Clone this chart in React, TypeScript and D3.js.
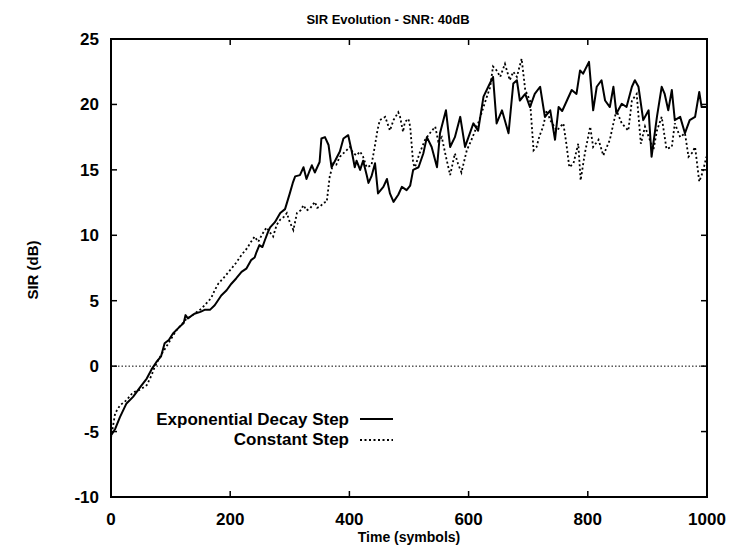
import * as d3 from "d3";

// SIR (dB) over time (symbols)
const decayPoints: [number, number][] = [
  [0, -5.3], [7, -4.8], [15, -3.9], [26, -2.85], [37, -2.35], [49, -1.6], [60, -0.95],
  [68, -0.25], [76, 0.3], [84, 0.75], [90, 1.75], [97, 2.0], [104, 2.5], [115, 3.0],
  [122, 3.3], [125, 3.9], [129, 3.65], [140, 4.0], [150, 4.15], [157, 4.3], [166, 4.3],
  [174, 4.65], [185, 5.4], [194, 5.8], [202, 6.3], [210, 6.7], [219, 7.2], [227, 7.45],
  [235, 8.1], [241, 8.3], [244, 8.7], [249, 9.25], [254, 9.1], [258, 9.6], [263, 10.2],
  [267, 10.6], [275, 11.0], [284, 11.7], [292, 12.0], [300, 13.2], [305, 14.0], [309, 14.5],
  [317, 14.6], [323, 15.2], [328, 14.3], [333, 14.9], [337, 15.35], [342, 14.8], [350, 15.6],
  [353, 17.4], [359, 17.5], [365, 16.9], [370, 15.2], [376, 15.7], [384, 16.4], [390, 17.4],
  [398, 17.65], [404, 16.4], [409, 15.2], [412, 15.7], [418, 15.0], [423, 15.7], [429, 14.6],
  [432, 14.0], [437, 14.5], [443, 15.5], [448, 13.2], [457, 13.7], [463, 14.3], [468, 13.2],
  [474, 12.55], [482, 13.1], [488, 13.7], [496, 13.45], [502, 13.8], [507, 15.0], [516, 15.2],
  [524, 16.25], [530, 17.5], [538, 16.75], [547, 15.2], [552, 17.8], [562, 19.55], [569, 16.75],
  [577, 17.5], [586, 19.05], [594, 16.75], [608, 18.55], [616, 18.0], [625, 20.6], [633, 21.35],
  [641, 22.1], [647, 18.55], [656, 19.55], [667, 17.8], [675, 21.6], [681, 21.85], [686, 20.3],
  [695, 20.8], [703, 19.8], [711, 20.8], [720, 21.35], [728, 19.05], [737, 19.55], [745, 17.3],
  [751, 19.8], [757, 19.5], [765, 20.3], [773, 21.1], [781, 20.8], [787, 22.6], [792, 22.35],
  [802, 23.25], [809, 19.55], [815, 21.35], [823, 21.85], [829, 20.3], [837, 19.8], [843, 21.35],
  [848, 19.3], [857, 20.05], [865, 19.8], [874, 21.35], [879, 21.85], [885, 21.35], [893, 18.8],
  [902, 19.55], [907, 16.0], [916, 19.05], [924, 21.35], [929, 20.8], [935, 19.55], [941, 21.1],
  [946, 18.8], [955, 19.05], [963, 17.8], [971, 18.8], [980, 19.05], [987, 20.95], [991, 19.8],
  [1000, 19.8],
];

const constantPoints: [number, number][] = [
  [0, -5.5], [7, -3.6], [15, -3.0], [26, -2.6], [37, -2.0], [49, -1.8], [60, -1.45],
  [68, -0.7], [73, -0.1], [79, 0.45], [86, 1.0], [93, 1.5], [101, 2.1], [110, 2.75],
  [117, 3.1], [124, 3.5], [130, 3.7], [140, 4.0], [152, 4.4], [160, 4.8], [168, 5.2],
  [174, 5.8], [180, 6.3], [190, 6.8], [202, 7.45], [210, 7.9], [219, 8.5], [228, 9.0],
  [235, 9.5], [241, 9.9], [247, 9.5], [254, 10.1], [261, 10.6], [267, 10.2], [272, 9.9],
  [278, 10.8], [284, 11.2], [290, 11.4], [295, 11.7], [300, 11.0], [306, 10.4], [312, 11.7],
  [318, 11.9], [323, 12.3], [328, 11.9], [334, 12.05], [342, 12.55], [346, 12.1], [351, 12.2],
  [357, 12.5], [362, 12.55], [367, 14.5], [373, 15.5], [378, 15.4], [384, 16.0], [393, 16.4],
  [401, 16.75], [406, 16.3], [412, 16.1], [418, 16.4], [423, 16.0], [429, 15.2], [437, 15.35],
  [443, 16.9], [447, 18.0], [451, 18.8], [460, 19.05], [465, 18.4], [468, 18.0], [474, 18.8],
  [482, 19.4], [485, 19.05], [490, 17.9], [493, 18.65], [499, 18.9], [502, 18.3], [507, 15.5],
  [510, 15.2], [518, 16.3], [527, 17.3], [535, 17.8], [544, 18.3], [549, 17.2], [555, 17.5],
  [562, 16.0], [569, 14.6], [577, 16.25], [582, 15.5], [588, 14.8], [597, 16.5], [604, 17.2],
  [611, 18.0], [618, 18.8], [625, 19.8], [630, 20.5], [636, 21.3], [641, 22.9], [647, 22.6],
  [653, 22.1], [661, 23.1], [669, 21.85], [675, 22.5], [681, 22.1], [689, 23.5], [695, 21.1],
  [703, 20.3], [709, 16.5], [714, 16.75], [719, 17.6], [725, 18.3], [731, 19.55], [737, 18.8],
  [748, 18.0], [759, 18.55], [764, 17.0], [769, 15.2], [776, 15.5], [784, 17.0], [788, 14.2],
  [795, 16.25], [804, 18.3], [809, 16.75], [818, 17.3], [826, 16.1], [837, 17.3], [843, 18.55],
  [848, 19.55], [857, 18.55], [868, 18.0], [874, 20.3], [882, 20.8], [889, 17.0], [896, 18.3],
  [904, 17.3], [910, 16.5], [916, 18.0], [924, 19.05], [932, 16.6], [941, 16.75], [946, 18.55],
  [955, 17.5], [963, 17.8], [969, 16.0], [975, 16.3], [980, 16.75], [987, 14.1], [993, 14.85],
  [999, 16.0],
];

const xTicks = [0, 200, 400, 600, 800, 1000];
const yTicks = [-10, -5, 0, 5, 10, 15, 20, 25];

export default function App() {
  const width = 729;
  const height = 549;
  const left = 111;
  const right = 707;
  const top = 39;
  const bottom = 497;
  const font = "'Liberation Sans', Arial, Helvetica, sans-serif";

  const x = d3.scaleLinear([0, 1000], [left, right]);
  const y = d3.scaleLinear([-10, 25], [bottom, top]);
  const line = d3.line<[number, number]>((d) => x(d[0]), (d) => y(d[1]));

  const tick = 6;

  return (
    <svg
      width={width}
      height={height}
      style={{ position: "absolute", left: 0, top: 0, background: "white" }}
      fontFamily={font}
    >
      {/* zero line */}
      <line x1={x(0)} x2={x(1000)} y1={y(0)} y2={y(0)} stroke="black" strokeWidth={1} strokeDasharray="1.5,2" />

      {/* series */}
      <path d={line(decayPoints) ?? ""} fill="none" stroke="black" strokeWidth={2} strokeLinejoin="round" />
      <path d={line(constantPoints) ?? ""} fill="none" stroke="black" strokeWidth={1.8} strokeDasharray="2,2.5" />

      {/* frame */}
      <rect x={left} y={top} width={right - left} height={bottom - top} fill="none" stroke="black" strokeWidth={2} />

      {/* ticks, mirrored */}
      {xTicks.map((t) => (
        <g key={"x" + t}>
          <line x1={x(t)} x2={x(t)} y1={bottom} y2={bottom - tick} stroke="black" strokeWidth={1.5} />
          <line x1={x(t)} x2={x(t)} y1={top} y2={top + tick} stroke="black" strokeWidth={1.5} />
          <text x={x(t)} y={525} textAnchor="middle" fontSize={17} fontWeight="bold">
            {t}
          </text>
        </g>
      ))}
      {yTicks.map((v) => (
        <g key={"y" + v}>
          <line x1={left} x2={left + tick} y1={y(v)} y2={y(v)} stroke="black" strokeWidth={1.5} />
          <line x1={right} x2={right - tick} y1={y(v)} y2={y(v)} stroke="black" strokeWidth={1.5} />
          <text x={99} y={y(v) + 6} textAnchor="end" fontSize={17} fontWeight="bold">
            {v}
          </text>
        </g>
      ))}

      {/* titles */}
      <text x={388} y={24} textAnchor="middle" fontSize={13} fontWeight="bold">
        SIR Evolution - SNR: 40dB
      </text>
      <text x={409} y={542} textAnchor="middle" fontSize={14} fontWeight="bold">
        Time (symbols)
      </text>
      <text transform="translate(38,270) rotate(-90)" textAnchor="middle" fontSize={15} fontWeight="bold">
        SIR (dB)
      </text>

      {/* legend */}
      <text x={349} y={425} textAnchor="end" fontSize={17} fontWeight="bold">
        Exponential Decay Step
      </text>
      <line x1={360} x2={393} y1={419} y2={419} stroke="black" strokeWidth={2} />
      <text x={349} y={445} textAnchor="end" fontSize={17} fontWeight="bold">
        Constant Step
      </text>
      <line x1={360} x2={393} y1={440} y2={440} stroke="black" strokeWidth={1.8} strokeDasharray="2,2.5" />
    </svg>
  );
}
